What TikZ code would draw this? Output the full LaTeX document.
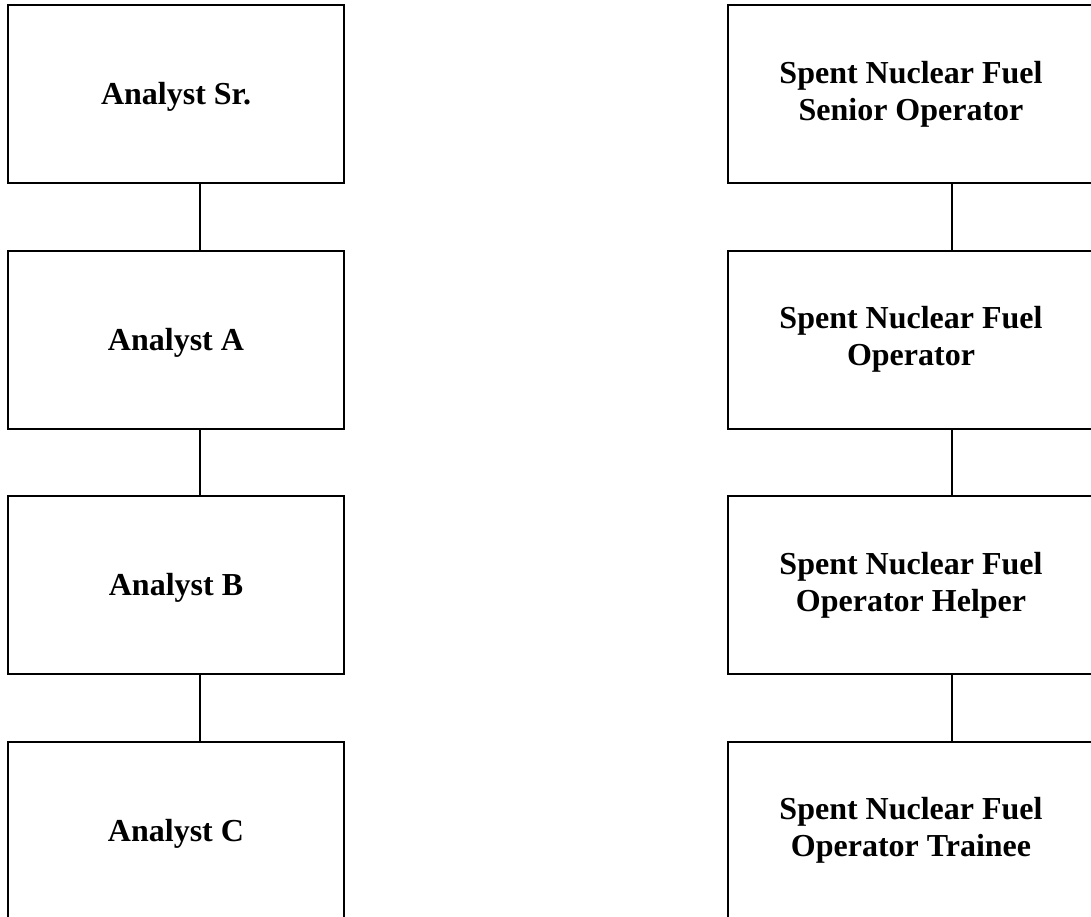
\documentclass[tikz,border=0pt]{standalone}
\usepackage{fontspec}
\setmainfont{Liberation Serif}
\newcommand{\lowertext}[1]{\raisebox{-3pt}[\height][\depth]{#1}}
\begin{document}
\begin{tikzpicture}[x=1pt,y=-1pt,
  leftbox/.style={draw,line width=2pt,minimum width=336pt,minimum height=178pt,inner sep=0pt,align=center,font=\fontsize{32}{37}\selectfont\bfseries},
  rightbox/.style={draw,line width=2pt,minimum width=366pt,minimum height=178pt,inner sep=0pt,align=center,font=\fontsize{32}{37}\selectfont\bfseries},
  link/.style={line width=2pt}]
\useasboundingbox (0,0) rectangle (1091,916);
\clip (0,0) rectangle (1091,916);
\node[leftbox] (l1) at (176,94) {\lowertext{Analyst Sr.}};
\node[leftbox] (l2) at (176,339.5) {\lowertext{Analyst A}};
\node[leftbox] (l3) at (176,585) {\lowertext{Analyst B}};
\node[leftbox] (l4) at (176,830.5) {\lowertext{Analyst C}};
\node[rightbox] (r1) at (911,94) {Spent Nuclear Fuel\\Senior Operator};
\node[rightbox] (r2) at (911,339.5) {Spent Nuclear Fuel\\Operator};
\node[rightbox] (r3) at (911,585) {Spent Nuclear Fuel\\Operator Helper};
\node[rightbox] (r4) at (911,830.5) {Spent Nuclear Fuel\\Operator Trainee};
\draw[link] ([xshift=24pt]l1.south) -- ([xshift=24pt]l2.north);
\draw[link] ([xshift=24pt]l2.south) -- ([xshift=24pt]l3.north);
\draw[link] ([xshift=24pt]l3.south) -- ([xshift=24pt]l4.north);
\draw[link] ([xshift=41pt]r1.south) -- ([xshift=41pt]r2.north);
\draw[link] ([xshift=41pt]r2.south) -- ([xshift=41pt]r3.north);
\draw[link] ([xshift=41pt]r3.south) -- ([xshift=41pt]r4.north);
\end{tikzpicture}
\end{document}
